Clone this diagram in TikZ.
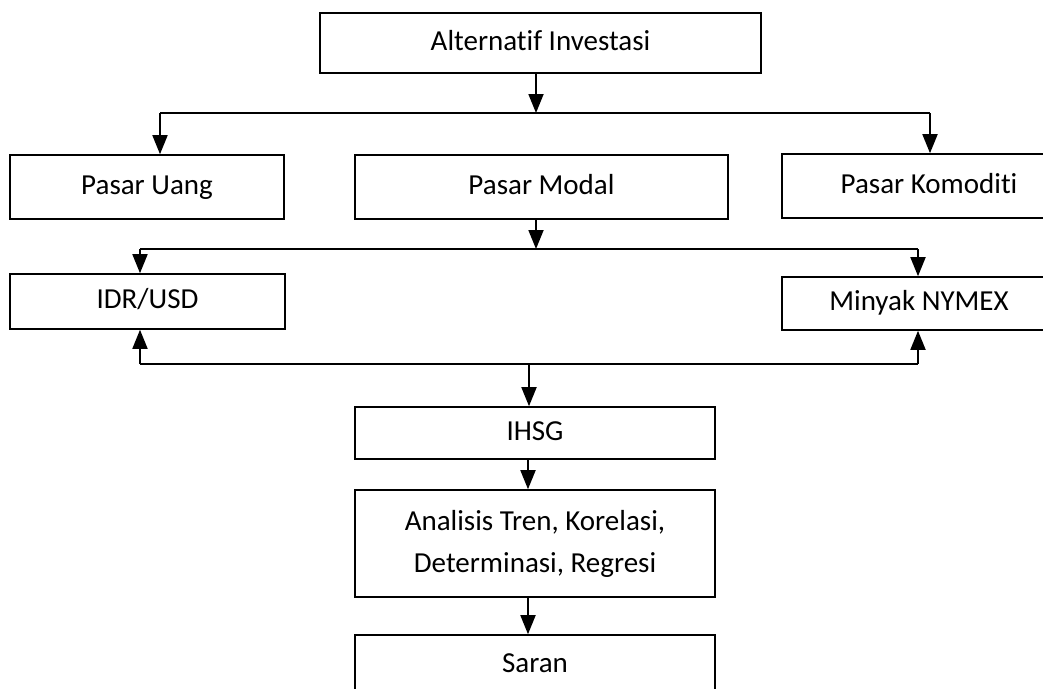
\documentclass[tikz,border=0pt]{standalone}
\usepackage{fontspec}
\setmainfont[Ligatures=CommonOff]{Carlito}
\usetikzlibrary{arrows.meta}
\begin{document}
\begin{tikzpicture}[x=1pt,y=-1pt,
  boxbase/.style={draw=black,line width=1.6pt,rectangle,inner sep=0pt,align=center,
    font=\fontsize{29}{42}\selectfont},
  box/.style={boxbase,text height=20pt,text depth=6pt},
  conn/.style={line width=1.8pt,-{Triangle[length=19pt,width=15pt]}},
  wire/.style={line width=1.8pt}]
\clip (0,0) rectangle (1043,688);
\fill[white] (0,0) rectangle (1043,688);
% boxes
\node[box,minimum width=441pt,minimum height=60pt] (alt) at (540.5,43) {Alternatif Investasi};
\node[box,minimum width=274pt,minimum height=64pt] (uang) at (147,187) {Pasar Uang};
\node[box,minimum width=373pt,minimum height=64pt] (modal) at (541.5,187) {Pasar Modal};
\node[box,minimum width=294pt,minimum height=64pt] (komo) at (929,186) {Pasar Komoditi};
\node[box,minimum width=275pt,minimum height=55pt] (idr) at (147.5,301.5) {IDR/USD};
\node[box,minimum width=274pt,minimum height=53pt] (minyak) at (919,303.5) {Minyak NYMEX};
\node[box,minimum width=360pt,minimum height=52pt] (ihsg) at (535,433) {IHSG};
\node[boxbase,minimum width=360pt,minimum height=107pt] (anal) at (535,543.5) {Analisis Tren, Korelasi,\\Determinasi, Regresi};
\node[box,minimum width=360pt,minimum height=60pt] (saran) at (535,665) {Saran};
% junction coordinates
\coordinate (j1) at (536,113);
\coordinate (j1l) at (160,113);
\coordinate (j1r) at (930,113);
\coordinate (j2) at (536,249);
\coordinate (j2l) at (140,249);
\coordinate (j2r) at (918,249);
\coordinate (j3) at (529,364);
\coordinate (j3l) at (140,364);
\coordinate (j3r) at (918,364);
% connectors
\draw[conn] (alt.south -| j1) -- (j1);
\draw[wire] (j1l) -- (j1r);
\draw[conn] (j1l) -- (j1l |- uang.north);
\draw[conn] (j1r) -- (j1r |- komo.north);
\draw[conn] (modal.south -| j2) -- (j2);
\draw[wire] (j2l) -- (j2r);
\draw[conn] (j2l) -- (j2l |- idr.north);
\draw[conn] (j2r) -- (j2r |- minyak.north);
\draw[wire] (j3l) -- (j3r);
\draw[conn] (j3l) -- (j3l |- idr.south);
\draw[conn] (j3r) -- (j3r |- minyak.south);
\draw[conn] (j3) -- (j3 |- ihsg.north);
\draw[conn] ([xshift=-7pt]ihsg.south) -- ([xshift=-7pt]anal.north);
\draw[conn] ([xshift=-7pt]anal.south) -- ([xshift=-7pt]saran.north);
\end{tikzpicture}
\end{document}
